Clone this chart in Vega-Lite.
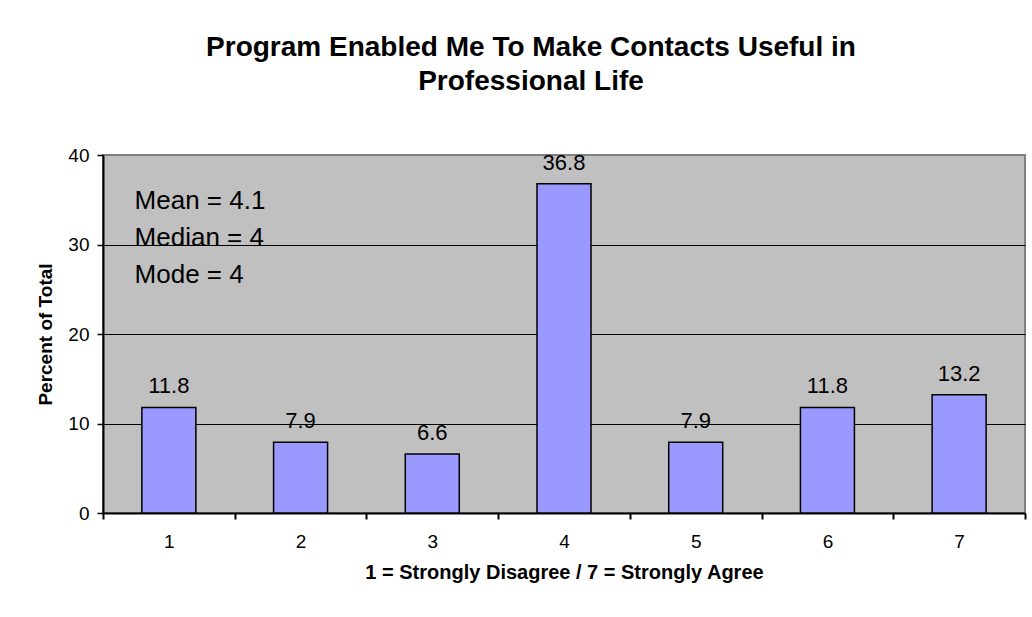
{
  "$schema": "https://vega.github.io/schema/vega-lite/v6.json",
  "autosize": "none",
  "width": 922,
  "height": 358,
  "padding": {"left": 103, "top": 155, "right": 7, "bottom": 104},
  "background": "white",
  "config": {
    "font": "Liberation Sans",
    "view": {"fill": "#C0C0C0", "stroke": "#808080", "strokeWidth": 2}
  },
  "title": {
    "text": ["Program Enabled Me To Make Contacts Useful in", "Professional Life"],
    "font": "Liberation Sans",
    "fontSize": 28,
    "fontWeight": "bold",
    "color": "black",
    "anchor": "middle",
    "dx": -33,
    "offset": 50,
    "lineHeight": 34
  },
  "data": {
    "values": [
      {"rating": 1, "percent": 11.8},
      {"rating": 2, "percent": 7.9},
      {"rating": 3, "percent": 6.6},
      {"rating": 4, "percent": 36.8},
      {"rating": 5, "percent": 7.9},
      {"rating": 6, "percent": 11.8},
      {"rating": 7, "percent": 13.2}
    ]
  },
  "resolve": {"axis": {"x": "independent"}},
  "layer": [
    {
      "mark": {"type": "bar", "width": 54, "color": "#9999FF", "stroke": "black", "strokeWidth": 1.5},
      "encoding": {
        "x": {
          "field": "rating",
          "type": "quantitative",
          "scale": {"domain": [0.5, 7.5], "nice": false, "zero": false, "padding": 0},
          "axis": {
            "orient": "bottom",
            "values": [0.5, 1.5, 2.5, 3.5, 4.5, 5.5, 6.5, 7.5],
            "labels": false,
            "grid": false,
            "domainColor": "black",
            "domainWidth": 2,
            "tickColor": "black",
            "tickWidth": 2,
            "tickSize": 6,
            "title": null
          }
        },
        "y": {
          "field": "percent",
          "type": "quantitative",
          "scale": {"domain": [0, 40], "nice": false},
          "axis": {
            "values": [0, 10, 20, 30, 40],
            "title": "Percent of Total",
            "titleFont": "Liberation Sans",
            "titleFontSize": 19,
            "titleFontWeight": "bold",
            "titleColor": "black",
            "titlePadding": 12,
            "labelFont": "Liberation Sans",
            "labelFontSize": 19,
            "labelColor": "black",
            "labelPadding": 8,
            "domainColor": "black",
            "domainWidth": 2,
            "tickColor": "black",
            "tickWidth": 1.5,
            "tickSize": 6,
            "grid": true,
            "gridColor": {"condition": {"test": "datum.value == 40", "value": "#808080"}, "value": "black"},
            "gridWidth": 1
          }
        }
      }
    },
    {
      "mark": {"type": "text", "baseline": "alphabetic", "dy": -14, "fontSize": 22, "color": "black", "font": "Liberation Sans"},
      "encoding": {
        "x": {
          "field": "rating",
          "type": "quantitative",
          "axis": {
            "orient": "bottom",
            "values": [1, 2, 3, 4, 5, 6, 7],
            "ticks": false,
            "domain": false,
            "grid": false,
            "labelFont": "Liberation Sans",
            "labelFontSize": 19,
            "labelColor": "black",
            "labelPadding": 19,
            "title": "1 = Strongly Disagree / 7 = Strongly Agree",
            "titleFont": "Liberation Sans",
            "titleFontSize": 20,
            "titleFontWeight": "bold",
            "titleColor": "black",
            "titlePadding": 11
          }
        },
        "y": {"field": "percent", "type": "quantitative"},
        "text": {"field": "percent", "type": "quantitative", "format": ".1f"}
      }
    },
    {
      "data": {"values": [{}]},
      "mark": {
        "type": "text",
        "text": ["Mean = 4.1", "Median = 4", "Mode = 4"],
        "align": "left",
        "baseline": "middle",
        "lineHeight": 37,
        "fontSize": 26,
        "color": "black",
        "font": "Liberation Sans"
      },
      "encoding": {
        "x": {"datum": 0.74, "type": "quantitative", "axis": null},
        "y": {"datum": 34.9, "type": "quantitative"}
      }
    }
  ]
}
